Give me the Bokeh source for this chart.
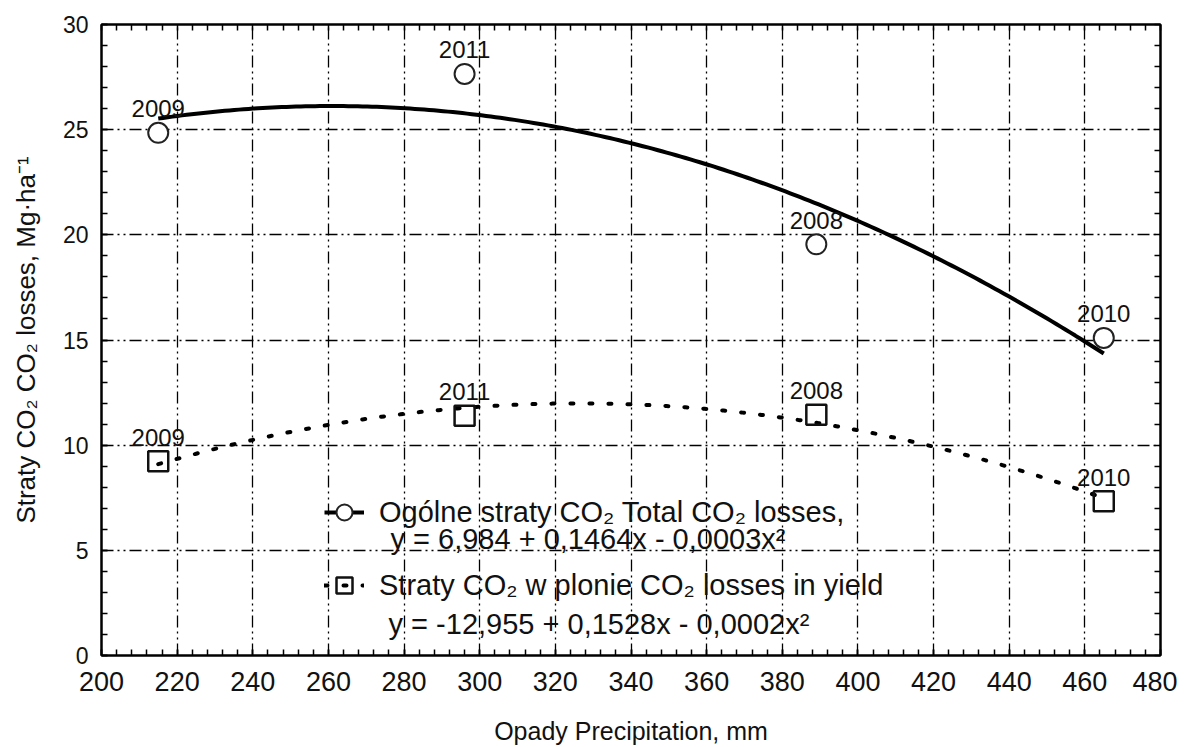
import numpy as np
from bokeh.plotting import figure
from bokeh.models import (ColumnDataSource, Range1d, LinearAxis, SingleIntervalTicker,
                          FixedTicker, Legend, LegendItem, Label)
from bokeh.core.properties import value
from bokeh.embed import file_html
from bokeh.resources import INLINE

# ---- data ----
years = ["2009", "2011", "2008", "2010"]
precipitation = [215, 296, 389, 465]          # mm
total_losses = [24.85, 27.65, 19.55, 15.1]    # Mg/ha
yield_losses = [9.23, 11.4, 11.45, 7.33]      # Mg/ha

x_tick_labels = [200, 220, 240, 260, 280, 300, 320, 340, 360, 380, 400, 420, 440, 460, 480]
y_tick_labels = [0, 5, 10, 15, 20, 25, 30]

label_total = "Ogólne straty CO₂ Total CO₂ losses,"
eq_total = "y = 6,984 + 0,1464x - 0,0003x²"
label_yield = "Straty CO₂ w plonie CO₂ losses in yield"
eq_yield = "y = -12,955 + 0,1528x - 0,0002x²"

FONT = "Liberation Sans"
INK = "#111111"

src = ColumnDataSource(dict(x=precipitation, total=total_losses,
                            yld=yield_losses, year=years))

# quadratic trend lines (regression of the data points)
fit_x = np.linspace(min(precipitation), max(precipitation), 200)
c_total = np.polyfit(precipitation, total_losses, 2)
c_yield = np.polyfit(precipitation, yield_losses, 2)
trend = ColumnDataSource(dict(x=fit_x, total=np.polyval(c_total, fit_x),
                              yld=np.polyval(c_yield, fit_x)))

p = figure(width=1177, height=747,
           x_range=Range1d(x_tick_labels[0], x_tick_labels[-1]),
           y_range=Range1d(y_tick_labels[0], y_tick_labels[-1]),
           output_backend="svg", toolbar_location=None,
           min_border_left=101, min_border_right=17,
           min_border_top=24, min_border_bottom=89,
           background_fill_color="white", border_fill_color="white")
p.outline_line_color = "black"
p.outline_line_width = 2

x_step = x_tick_labels[1] - x_tick_labels[0]
y_step = y_tick_labels[1] - y_tick_labels[0]
xt = SingleIntervalTicker(interval=x_step, num_minor_ticks=5)
yt = SingleIntervalTicker(interval=y_step, num_minor_ticks=5)


def style_axis(ax, ticker):
    ax.ticker = ticker
    ax.axis_line_color = "black"
    ax.axis_line_width = 2
    ax.major_tick_in = 6
    ax.major_tick_out = 0
    ax.minor_tick_in = 6
    ax.minor_tick_out = 0
    ax.major_tick_line_color = "black"
    ax.minor_tick_line_color = "black"
    ax.major_tick_line_width = 1.5
    ax.minor_tick_line_width = 1.5
    ax.major_label_text_font = FONT
    ax.major_label_text_color = INK


style_axis(p.xaxis[0], xt)
style_axis(p.yaxis[0], yt)
p.xaxis[0].major_label_text_font_size = "27px"
p.yaxis[0].major_label_text_font_size = "23px"
p.xaxis[0].major_label_standoff = 16
p.yaxis[0].major_label_standoff = 13
p.xaxis[0].axis_label = "Opady Precipitation, mm"
p.yaxis[0].axis_label = "Straty CO₂ CO₂ losses, Mg·ha⁻¹"
for ax, fs, st in ((p.xaxis[0], "25px", 23), (p.yaxis[0], "26px", 19)):
    ax.axis_label_text_font = FONT
    ax.axis_label_text_font_size = fs
    ax.axis_label_text_font_style = "normal"
    ax.axis_label_text_color = INK
    ax.axis_label_standoff = st

# top / right axes: inward ticks only, no labels
top_ticks = FixedTicker(ticks=[], minor_ticks=list(np.arange(x_tick_labels[0], x_tick_labels[-1] + 1, x_step / 5)))
right_ticks = FixedTicker(ticks=[], minor_ticks=list(np.arange(y_tick_labels[0], y_tick_labels[-1] + 0.5, y_step / 5)))
top_ax = LinearAxis()
right_ax = LinearAxis()
style_axis(top_ax, top_ticks)
style_axis(right_ax, right_ticks)
p.add_layout(top_ax, "above")
p.add_layout(right_ax, "right")

for g, t in ((p.xgrid[0], xt), (p.ygrid[0], yt)):
    g.ticker = t
    g.grid_line_color = "black"
    g.grid_line_width = 1.3
    g.grid_line_dash = "12 4 2 4 2 4"

line_total = p.line("x", "total", source=trend, line_width=4, line_color="black")
line_yield = p.line("x", "yld", source=trend, line_width=4, line_color="black",
                    line_dash="3 16", line_cap="round")

pts_total = p.scatter("x", "total", source=src, marker="circle", size=20,
                      fill_color="white", line_color="#222222", line_width=2)
pts_yield = p.scatter("x", "yld", source=src, marker="square", size=20,
                      fill_color=None, line_color="#111111", line_width=2.5)

for col in ("total", "yld"):
    p.text("x", col, text="year", source=src, text_align="center",
           text_baseline="middle", y_offset=-24,
           text_font=value(FONT), text_font_size="24px", text_color=INK)

legend = Legend(items=[LegendItem(label=label_total, renderers=[line_total, pts_total]),
                       LegendItem(label=label_yield, renderers=[line_yield, pts_yield])],
                location=(223, 45), glyph_width=40, glyph_height=50,
                label_standoff=15, spacing=23, padding=0, margin=0,
                border_line_alpha=0, background_fill_alpha=0,
                label_text_font=FONT, label_text_font_size="29px",
                label_text_color=INK, label_height=30)
p.add_layout(legend)

p.add_layout(Label(x=276.4, y=5.54, text=eq_total, text_baseline="middle",
                   text_font=FONT, text_font_size="29px", text_color=INK))
p.add_layout(Label(x=275.9, y=1.51, text=eq_yield, text_baseline="middle",
                   text_font=FONT, text_font_size="29px", text_color=INK))

open("out.html", "w").write(file_html(p, INLINE))
